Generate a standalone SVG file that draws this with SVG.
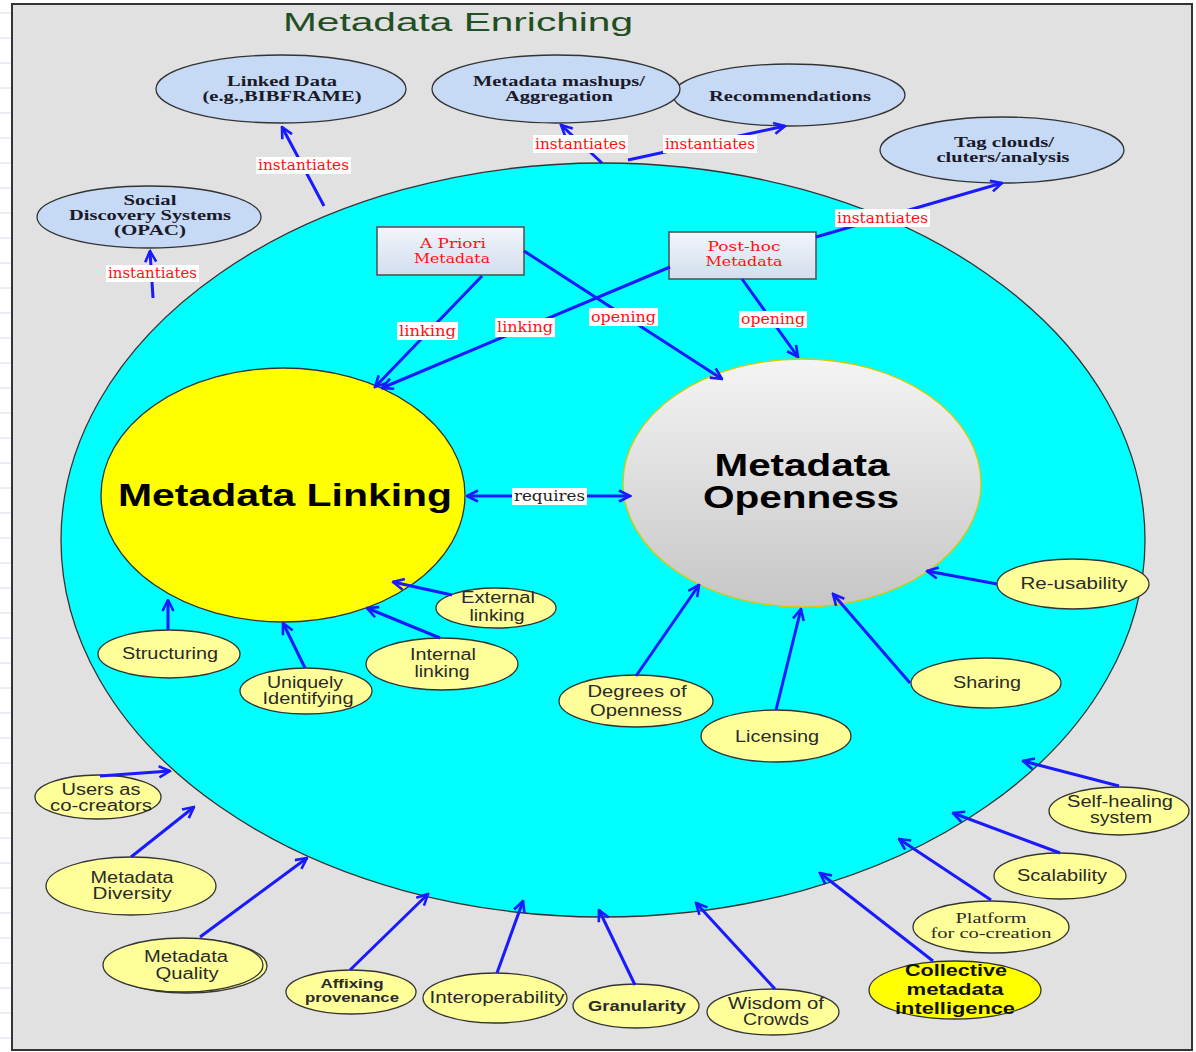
<svg xmlns="http://www.w3.org/2000/svg" width="1196" height="1052" viewBox="0 0 1196 1052">
<style>
.conn line{stroke:#1a1aff;stroke-width:3;fill:none}
.bl{fill:#c6d9f5;stroke:#333;stroke-width:1.3}
.yl{fill:#ffff99;stroke:#333;stroke-width:1.3}
.bt{font-family:"Liberation Serif","Times New Roman",serif;font-weight:bold;font-size:15px;fill:#1a1a2a;text-anchor:middle}
.yt{font-family:"Liberation Sans",Arial,sans-serif;font-size:16px;fill:#2a2a2a;text-anchor:middle}
.lb rect{fill:#ffffff}
.lt{font-family:"DejaVu Serif","Liberation Serif",serif;font-size:14px;fill:#ff1010;text-anchor:middle}
.big{font-family:"Liberation Sans",Arial,sans-serif;font-weight:bold;font-size:31px;fill:#000;text-anchor:middle}
.grid line{stroke:#d6dcec;stroke-width:1}
</style>
<defs>
<marker id="ah" viewBox="0 0 14 14" refX="12.5" refY="7" markerWidth="14" markerHeight="14" markerUnits="userSpaceOnUse" orient="auto-start-reverse">
<path d="M1.5,1.5 L12.5,7 L1.5,12.5" fill="none" stroke="#1a1aff" stroke-width="2.6"/>
</marker>
<linearGradient id="gOpen" x1="0" y1="0" x2="0" y2="1">
<stop offset="0" stop-color="#f4f4f4"/>
<stop offset="1" stop-color="#c6c6c6"/>
</linearGradient>
<linearGradient id="gBox" x1="0" y1="0" x2="0" y2="1">
<stop offset="0" stop-color="#f2f5fb"/>
<stop offset="1" stop-color="#d2deee"/>
</linearGradient>
</defs>

<rect x="0" y="0" width="1196" height="1052" fill="#ffffff"/>
<g class="grid">
<line x1="0" y1="13" x2="11" y2="13"/><line x1="0" y1="38" x2="11" y2="38"/><line x1="0" y1="63" x2="11" y2="63"/><line x1="0" y1="88" x2="11" y2="88"/><line x1="0" y1="113" x2="11" y2="113"/><line x1="0" y1="138" x2="11" y2="138"/><line x1="0" y1="163" x2="11" y2="163"/><line x1="0" y1="188" x2="11" y2="188"/><line x1="0" y1="213" x2="11" y2="213"/><line x1="0" y1="238" x2="11" y2="238"/><line x1="0" y1="263" x2="11" y2="263"/><line x1="0" y1="288" x2="11" y2="288"/><line x1="0" y1="313" x2="11" y2="313"/><line x1="0" y1="338" x2="11" y2="338"/><line x1="0" y1="363" x2="11" y2="363"/><line x1="0" y1="388" x2="11" y2="388"/><line x1="0" y1="413" x2="11" y2="413"/><line x1="0" y1="438" x2="11" y2="438"/><line x1="0" y1="463" x2="11" y2="463"/><line x1="0" y1="488" x2="11" y2="488"/><line x1="0" y1="513" x2="11" y2="513"/><line x1="0" y1="538" x2="11" y2="538"/><line x1="0" y1="563" x2="11" y2="563"/><line x1="0" y1="588" x2="11" y2="588"/><line x1="0" y1="613" x2="11" y2="613"/><line x1="0" y1="638" x2="11" y2="638"/><line x1="0" y1="663" x2="11" y2="663"/><line x1="0" y1="688" x2="11" y2="688"/><line x1="0" y1="713" x2="11" y2="713"/><line x1="0" y1="738" x2="11" y2="738"/><line x1="0" y1="763" x2="11" y2="763"/><line x1="0" y1="788" x2="11" y2="788"/><line x1="0" y1="813" x2="11" y2="813"/><line x1="0" y1="838" x2="11" y2="838"/><line x1="0" y1="863" x2="11" y2="863"/><line x1="0" y1="888" x2="11" y2="888"/><line x1="0" y1="913" x2="11" y2="913"/><line x1="0" y1="938" x2="11" y2="938"/><line x1="0" y1="963" x2="11" y2="963"/><line x1="0" y1="988" x2="11" y2="988"/><line x1="0" y1="1013" x2="11" y2="1013"/><line x1="0" y1="1038" x2="11" y2="1038"/>
</g>

<rect id="frame" x="12" y="4" width="1180" height="1046" fill="#e1e1e1" stroke="#333" stroke-width="2"/>

<text id="title" x="458" y="31" font-family="'Liberation Sans',Arial,sans-serif" font-size="26" fill="#1f4f22" text-anchor="middle" textLength="350" lengthAdjust="spacingAndGlyphs">Metadata Enriching</text>

<g id="enriching-circle">
<ellipse cx="603" cy="540" rx="542" ry="377" fill="#00ffff" stroke="#333" stroke-width="1.3"/>
</g>

<!-- outer blue nodes -->
<g id="linked-data">
<ellipse class="bl" cx="281" cy="89" rx="125" ry="34"/>
<text class="bt"><tspan x="282" y="86" textLength="110" lengthAdjust="spacingAndGlyphs">Linked Data</tspan><tspan x="282" y="101" textLength="159" lengthAdjust="spacingAndGlyphs">(e.g.,BIBFRAME)</tspan></text>
</g>
<g id="social-discovery">
<ellipse class="bl" cx="149" cy="217" rx="112" ry="31"/>
<text class="bt"><tspan x="150" y="205" textLength="53" lengthAdjust="spacingAndGlyphs">Social</tspan><tspan x="150" y="220" textLength="162" lengthAdjust="spacingAndGlyphs">Discovery Systems</tspan><tspan x="150" y="235" textLength="72" lengthAdjust="spacingAndGlyphs">(OPAC)</tspan></text>
</g>
<g id="recommendations">
<ellipse class="bl" cx="789" cy="95" rx="116" ry="31"/>
<text class="bt" x="790" y="101" textLength="162" lengthAdjust="spacingAndGlyphs">Recommendations</text>
</g>
<g id="mashups">
<ellipse class="bl" cx="556" cy="89" rx="124" ry="34"/>
<text class="bt"><tspan x="559" y="86" textLength="172" lengthAdjust="spacingAndGlyphs">Metadata mashups/</tspan><tspan x="559" y="101" textLength="108" lengthAdjust="spacingAndGlyphs">Aggregation</tspan></text>
</g>
<g id="tag-clouds">
<ellipse class="bl" cx="1002" cy="150" rx="122" ry="33"/>
<text class="bt"><tspan x="1004" y="147" textLength="100" lengthAdjust="spacingAndGlyphs">Tag clouds/</tspan><tspan x="1003" y="162" textLength="133" lengthAdjust="spacingAndGlyphs">cluters/analysis</tspan></text>
</g>

<!-- core circles -->
<g id="metadata-linking">
<ellipse cx="283" cy="495" rx="182" ry="127" fill="#ffff00" stroke="#333" stroke-width="1.3"/>
<text class="big" x="285" y="506" textLength="334" lengthAdjust="spacingAndGlyphs">Metadata Linking</text>
</g>
<g id="metadata-openness">
<ellipse cx="802" cy="483" rx="179" ry="124" fill="url(#gOpen)" stroke="#d8c800" stroke-width="1.3"/>
<text class="big"><tspan x="802" y="476" textLength="175" lengthAdjust="spacingAndGlyphs">Metadata</tspan><tspan x="801" y="508" textLength="196" lengthAdjust="spacingAndGlyphs">Openness</tspan></text>
</g>

<!-- boxes -->
<g id="a-priori">
<rect x="377" y="227" width="147" height="48" fill="url(#gBox)" stroke="#555" stroke-width="1.6"/>
<text class="lt" style="font-size:13px"><tspan x="453" y="248" textLength="66" lengthAdjust="spacingAndGlyphs">A Priori</tspan><tspan x="452" y="263" textLength="76" lengthAdjust="spacingAndGlyphs">Metadata</tspan></text>
</g>
<g id="post-hoc">
<rect x="669" y="232" width="147" height="47" fill="url(#gBox)" stroke="#555" stroke-width="1.6"/>
<text class="lt" style="font-size:13px"><tspan x="744" y="251" textLength="73" lengthAdjust="spacingAndGlyphs">Post-hoc</tspan><tspan x="744" y="266" textLength="77" lengthAdjust="spacingAndGlyphs">Metadata</tspan></text>
</g>

<!-- linking subnodes -->
<g id="structuring">
<ellipse class="yl" cx="169" cy="654" rx="71" ry="24"/>
<text class="yt" x="170" y="659" textLength="96" lengthAdjust="spacingAndGlyphs">Structuring</text>
</g>
<g id="uniquely-identifying">
<ellipse class="yl" cx="306" cy="691" rx="66" ry="23"/>
<text class="yt"><tspan x="305" y="688" textLength="76" lengthAdjust="spacingAndGlyphs">Uniquely</tspan><tspan x="308" y="704" textLength="91" lengthAdjust="spacingAndGlyphs">Identifying</tspan></text>
</g>
<g id="internal-linking">
<ellipse class="yl" cx="442" cy="664" rx="76" ry="26"/>
<text class="yt"><tspan x="443" y="660" textLength="66" lengthAdjust="spacingAndGlyphs">Internal</tspan><tspan x="442" y="677" textLength="55" lengthAdjust="spacingAndGlyphs">linking</tspan></text>
</g>
<g id="external-linking">
<ellipse class="yl" cx="496" cy="608" rx="60" ry="20"/>
<text class="yt"><tspan x="498" y="603" textLength="74" lengthAdjust="spacingAndGlyphs">External</tspan><tspan x="497" y="621" textLength="55" lengthAdjust="spacingAndGlyphs">linking</tspan></text>
</g>

<!-- openness subnodes -->
<g id="re-usability">
<ellipse class="yl" cx="1073" cy="584" rx="76" ry="25"/>
<text class="yt" x="1074" y="589" textLength="107" lengthAdjust="spacingAndGlyphs">Re-usability</text>
</g>
<g id="sharing">
<ellipse class="yl" cx="986" cy="683" rx="75" ry="25"/>
<text class="yt" x="987" y="688" textLength="68" lengthAdjust="spacingAndGlyphs">Sharing</text>
</g>
<g id="licensing">
<ellipse class="yl" cx="776" cy="736" rx="75" ry="26"/>
<text class="yt" x="777" y="742" textLength="84" lengthAdjust="spacingAndGlyphs">Licensing</text>
</g>
<g id="degrees-of-openness">
<ellipse class="yl" cx="636" cy="701" rx="77" ry="26"/>
<text class="yt"><tspan x="637" y="697" textLength="99" lengthAdjust="spacingAndGlyphs">Degrees of</tspan><tspan x="636" y="716" textLength="92" lengthAdjust="spacingAndGlyphs">Openness</tspan></text>
</g>

<!-- outer subnodes -->
<g id="users-co-creators">
<ellipse class="yl" cx="98" cy="797" rx="63" ry="22"/>
<text class="yt"><tspan x="101" y="795" textLength="79" lengthAdjust="spacingAndGlyphs">Users as</tspan><tspan x="101" y="811" textLength="102" lengthAdjust="spacingAndGlyphs">co-creators</tspan></text>
</g>
<g id="metadata-diversity">
<ellipse class="yl" cx="131" cy="886" rx="85" ry="29"/>
<text class="yt"><tspan x="132" y="883" textLength="83" lengthAdjust="spacingAndGlyphs">Metadata</tspan><tspan x="132" y="899" textLength="79" lengthAdjust="spacingAndGlyphs">Diversity</tspan></text>
</g>
<g id="metadata-quality">
<ellipse class="yl" cx="187" cy="966" rx="80" ry="27"/>
<ellipse class="yl" cx="183" cy="965" rx="80" ry="27"/>
<text class="yt"><tspan x="186" y="962" textLength="84" lengthAdjust="spacingAndGlyphs">Metadata</tspan><tspan x="187" y="979" textLength="63" lengthAdjust="spacingAndGlyphs">Quality</tspan></text>
</g>
<g id="affixing-provenance">
<ellipse class="yl" cx="351" cy="992" rx="65" ry="22"/>
<text class="yt" style="font-weight:bold;font-size:13px"><tspan x="352" y="988" textLength="63" lengthAdjust="spacingAndGlyphs">Affixing</tspan><tspan x="352" y="1002" textLength="94" lengthAdjust="spacingAndGlyphs">provenance</tspan></text>
</g>
<g id="interoperability">
<ellipse class="yl" cx="495" cy="998" rx="72" ry="25"/>
<text class="yt" x="497" y="1003" textLength="135" lengthAdjust="spacingAndGlyphs">Interoperability</text>
</g>
<g id="granularity">
<ellipse class="yl" cx="636" cy="1006" rx="63" ry="22"/>
<text class="yt" x="637" y="1011" style="font-weight:bold;font-size:15px" textLength="98" lengthAdjust="spacingAndGlyphs">Granularity</text>
</g>
<g id="wisdom-of-crowds">
<ellipse class="yl" cx="773" cy="1012" rx="66" ry="23"/>
<text class="yt"><tspan x="776" y="1009" textLength="96" lengthAdjust="spacingAndGlyphs">Wisdom of</tspan><tspan x="776" y="1025" textLength="66" lengthAdjust="spacingAndGlyphs">Crowds</tspan></text>
</g>
<g id="collective-intelligence">
<ellipse cx="955" cy="990" rx="86" ry="29" fill="#ffff00" stroke="#333" stroke-width="1.3"/>
<text class="yt" style="font-weight:bold;fill:#111"><tspan x="956" y="976" textLength="102" lengthAdjust="spacingAndGlyphs">Collective</tspan><tspan x="955" y="995" textLength="97" lengthAdjust="spacingAndGlyphs">metadata</tspan><tspan x="955" y="1014" textLength="120" lengthAdjust="spacingAndGlyphs">intelligence</tspan></text>
</g>
<g id="platform-co-creation">
<ellipse class="yl" cx="991" cy="927" rx="78" ry="26"/>
<text class="yt" style="font-size:15.5px;font-family:'Liberation Serif','Times New Roman',serif"><tspan x="991" y="923" textLength="71" lengthAdjust="spacingAndGlyphs">Platform</tspan><tspan x="991" y="938" textLength="121" lengthAdjust="spacingAndGlyphs">for co-creation</tspan></text>
</g>
<g id="scalability">
<ellipse class="yl" cx="1060" cy="876" rx="66" ry="23"/>
<text class="yt" x="1062" y="881" textLength="90" lengthAdjust="spacingAndGlyphs">Scalability</text>
</g>
<g id="self-healing">
<ellipse class="yl" cx="1119" cy="811" rx="70" ry="24"/>
<text class="yt"><tspan x="1120" y="807" textLength="106" lengthAdjust="spacingAndGlyphs">Self-healing</tspan><tspan x="1121" y="823" textLength="62" lengthAdjust="spacingAndGlyphs">system</tspan></text>
</g>

<!-- connectors -->
<g id="connectors" class="conn">
<line x1="153" y1="298" x2="150" y2="251" marker-end="url(#ah)"/>
<line x1="324" y1="206" x2="282" y2="127" marker-end="url(#ah)"/>
<line x1="602" y1="163" x2="561" y2="125" marker-end="url(#ah)"/>
<line x1="628" y1="160" x2="785" y2="126" marker-end="url(#ah)"/>
<line x1="816" y1="237" x2="1002" y2="183" marker-end="url(#ah)"/>
<line x1="482" y1="276" x2="375" y2="387" marker-end="url(#ah)"/>
<line x1="670" y1="267" x2="382" y2="388" marker-end="url(#ah)"/>
<line x1="524" y1="251" x2="722" y2="379" marker-end="url(#ah)"/>
<line x1="742" y1="279" x2="798" y2="357" marker-end="url(#ah)"/>
<line x1="467" y1="496" x2="630" y2="496" marker-start="url(#ah)" marker-end="url(#ah)"/>
<line x1="168" y1="630" x2="168" y2="600" marker-end="url(#ah)"/>
<line x1="305" y1="668" x2="283" y2="623" marker-end="url(#ah)"/>
<line x1="440" y1="638" x2="367" y2="608" marker-end="url(#ah)"/>
<line x1="452" y1="595" x2="393" y2="582" marker-end="url(#ah)"/>
<line x1="997" y1="584" x2="927" y2="571" marker-end="url(#ah)"/>
<line x1="910" y1="683" x2="833" y2="594" marker-end="url(#ah)"/>
<line x1="776" y1="710" x2="801" y2="609" marker-end="url(#ah)"/>
<line x1="636" y1="676" x2="699" y2="585" marker-end="url(#ah)"/>
<line x1="100" y1="776" x2="170" y2="771" marker-end="url(#ah)"/>
<line x1="131" y1="857" x2="194" y2="807" marker-end="url(#ah)"/>
<line x1="200" y1="937" x2="307" y2="858" marker-end="url(#ah)"/>
<line x1="350" y1="970" x2="428" y2="894" marker-end="url(#ah)"/>
<line x1="497" y1="973" x2="523" y2="901" marker-end="url(#ah)"/>
<line x1="635" y1="985" x2="599" y2="910" marker-end="url(#ah)"/>
<line x1="775" y1="989" x2="696" y2="903" marker-end="url(#ah)"/>
<line x1="933" y1="961" x2="820" y2="873" marker-end="url(#ah)"/>
<line x1="991" y1="900" x2="899" y2="839" marker-end="url(#ah)"/>
<line x1="1060" y1="853" x2="953" y2="813" marker-end="url(#ah)"/>
<line x1="1119" y1="786" x2="1023" y2="761" marker-end="url(#ah)"/>
</g>

<!-- connector labels -->
<g id="labels" class="lb">
<rect x="106" y="265" width="93" height="17"/><text class="lt" x="152.5" y="278" textLength="89" lengthAdjust="spacingAndGlyphs">instantiates</text>
<rect x="256" y="157" width="95" height="17"/><text class="lt" x="303.5" y="170" textLength="91" lengthAdjust="spacingAndGlyphs">instantiates</text>
<rect x="533" y="135" width="95" height="18"/><text class="lt" x="580.5" y="148.5" textLength="91" lengthAdjust="spacingAndGlyphs">instantiates</text>
<rect x="663" y="135" width="94" height="18"/><text class="lt" x="710" y="148.5" textLength="90" lengthAdjust="spacingAndGlyphs">instantiates</text>
<rect x="835" y="209" width="95" height="18"/><text class="lt" x="882.5" y="222.5" textLength="91" lengthAdjust="spacingAndGlyphs">instantiates</text>
<rect x="397" y="322" width="61" height="18"/><text class="lt" x="427.5" y="335.5" style="font-size:15px" textLength="57" lengthAdjust="spacingAndGlyphs">linking</text>
<rect x="495" y="318" width="60" height="19"/><text class="lt" x="525" y="332" style="font-size:15px" textLength="56" lengthAdjust="spacingAndGlyphs">linking</text>
<rect x="589" y="308" width="69" height="18"/><text class="lt" x="623.5" y="321.5" style="font-size:15px" textLength="65" lengthAdjust="spacingAndGlyphs">opening</text>
<rect x="739" y="311" width="68" height="17"/><text class="lt" x="773" y="324" style="font-size:15px" textLength="64" lengthAdjust="spacingAndGlyphs">opening</text>
<rect x="512" y="488" width="75" height="17"/><text class="lt" x="549.5" y="500.5" style="font-size:15px;fill:#222" textLength="71" lengthAdjust="spacingAndGlyphs">requires</text>
</g>
</svg>
